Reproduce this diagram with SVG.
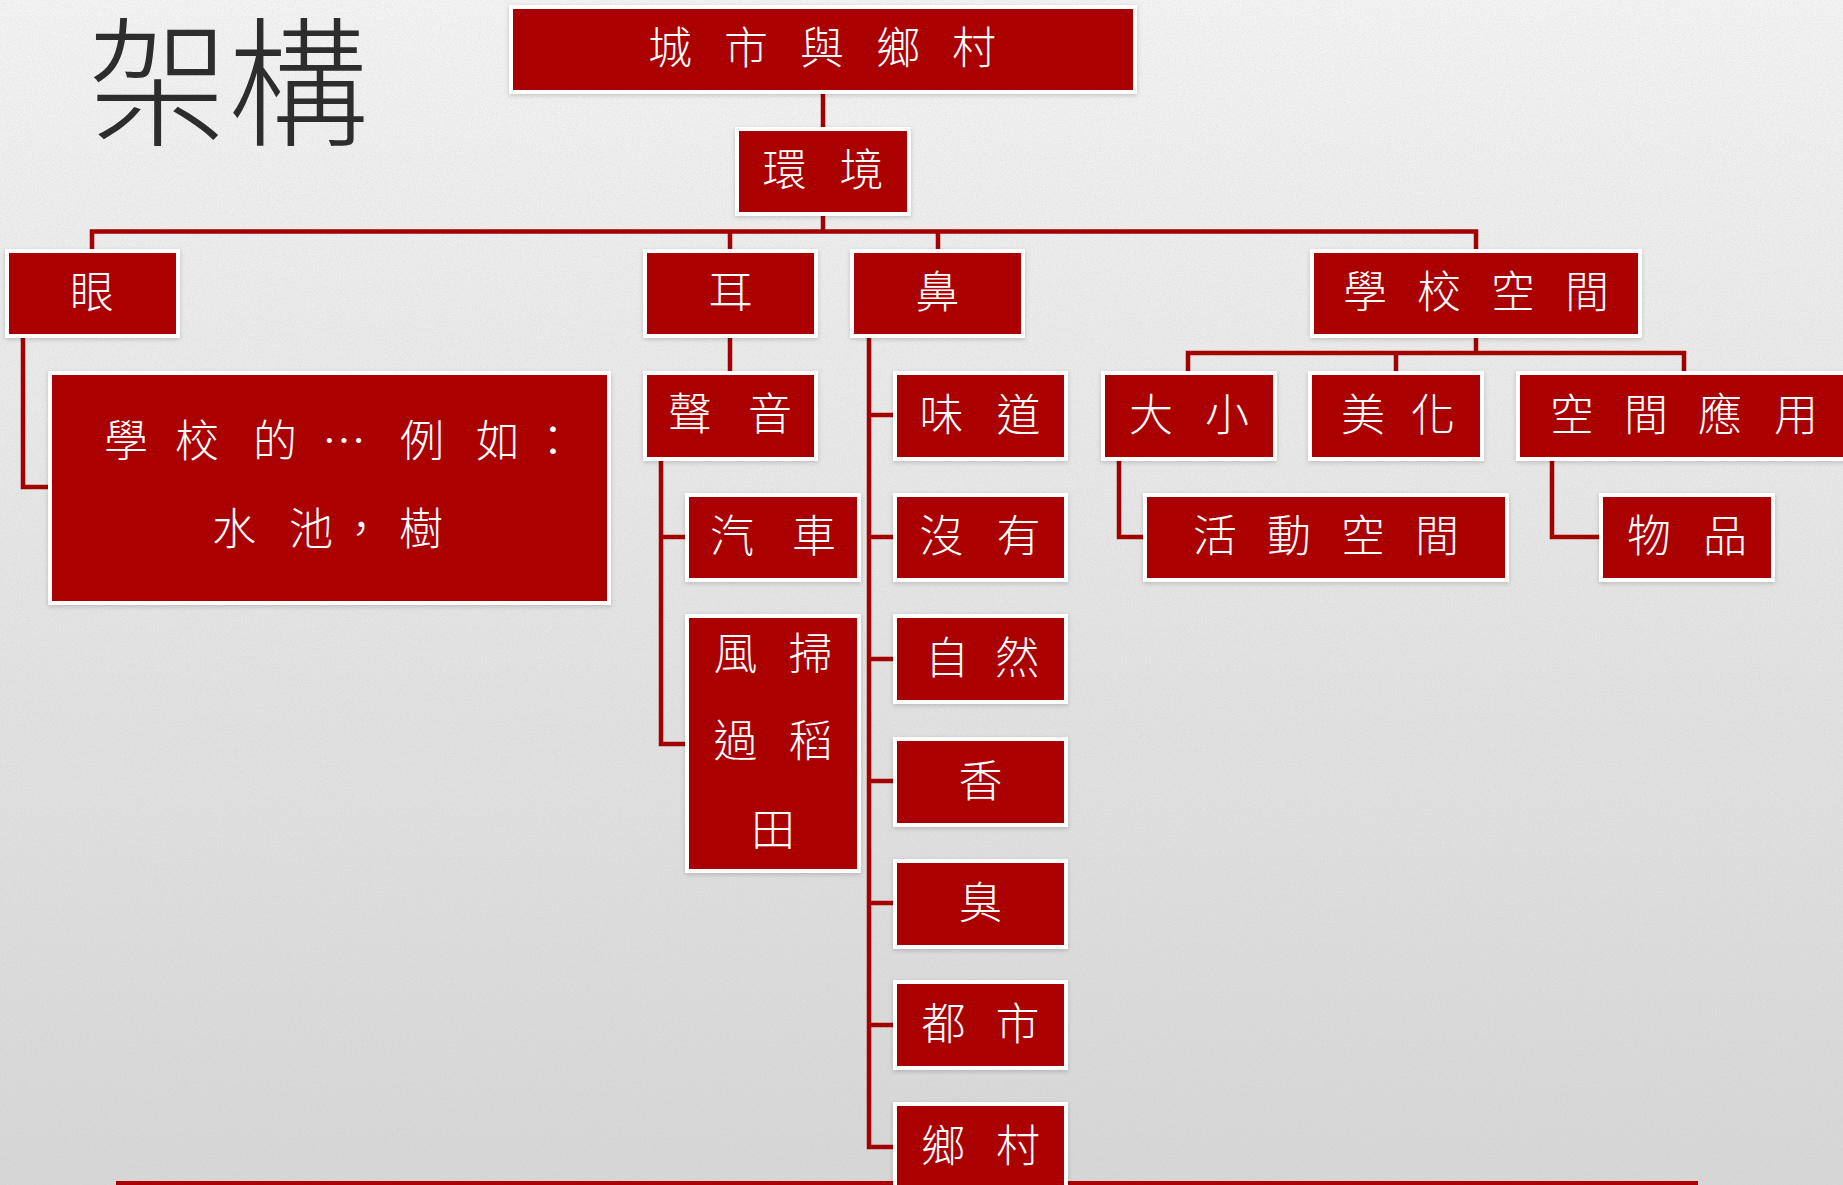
<svg xmlns="http://www.w3.org/2000/svg" width="1843" height="1185" viewBox="0 0 1843 1185">
<defs>
<linearGradient id="bg" x1="0" y1="0" x2="0" y2="1">
<stop offset="0" stop-color="#f5f5f5"/>
<stop offset="0.5" stop-color="#e6e6e6"/>
<stop offset="1" stop-color="#d8d8d8"/>
</linearGradient>
<filter id="noise" x="0" y="0" width="100%" height="100%">
<feTurbulence type="fractalNoise" baseFrequency="0.8" numOctaves="2" stitchTiles="stitch"/>
<feColorMatrix type="matrix" values="0 0 0 0 0.5  0 0 0 0 0.5  0 0 0 0 0.5  0 0 0 1.2 -0.35"/>
</filter>
<filter id="sh" x="-10%" y="-10%" width="120%" height="130%">
<feDropShadow dx="0" dy="1.5" stdDeviation="2" flood-color="#000" flood-opacity="0.18"/>
</filter>
<style>
.box{fill:#ab0000;stroke:#ffffff;stroke-width:4;filter:url(#sh)}
.lbl{fill:#ffffff;font-family:"Noto Sans CJK TC","Noto Sans CJK SC",sans-serif;font-size:44px;font-weight:300;text-anchor:middle;dominant-baseline:central}
.con{fill:none;stroke:#a30000;stroke-width:4.5;stroke-linejoin:miter}
.title{fill:#2d2d2d;font-family:"Liberation Sans","Noto Sans CJK TC",sans-serif;font-size:140px;font-weight:300}
</style>
</defs>
<rect x="0" y="0" width="1843" height="1185" fill="url(#bg)"/>
<rect x="0" y="0" width="1843" height="1185" filter="url(#noise)" opacity="0.35"/>
<rect x="116" y="1181" width="1582" height="6" fill="#ab0000"/>
<text class="title" x="88" y="86" dominant-baseline="central">架構</text>

<g id="connectors">
<path class="con" d="M823,90 V131"/>
<path class="con" d="M823,212 V231.5 M92,253 V231.5 H1476 V253 M730,231.5 V253 M938,231.5 V253"/>
<path class="con" d="M23,334 V487 H52"/>
<path class="con" d="M730,334 V375"/>
<path class="con" d="M661,457 V744 H689 M661,537 H689"/>
<path class="con" d="M869,334 V1147 H897 M869,415 H897 M869,537 H897 M869,659 H897 M869,781 H897 M869,903 H897 M869,1025 H897"/>
<path class="con" d="M1476,334 V353 M1188,375 V353 H1684 V375 M1396,353 V375"/>
<path class="con" d="M1119,457 V537 H1147"/>
<path class="con" d="M1552,457 V537 H1603"/>
</g>

<g id="n-top"><rect class="box" x="511" y="7" width="624" height="85"/><text class="lbl" x="838" y="45" letter-spacing="32">城市與鄉村</text></g>
<g id="n-env"><rect class="box" x="737" y="129" width="172" height="85"/><text class="lbl" x="839.5" y="167" letter-spacing="33">環境</text></g>
<g id="n-eye"><rect class="box" x="7" y="251" width="171" height="85"/><text class="lbl" x="92" y="289">眼</text></g>
<g id="n-ear"><rect class="box" x="645" y="251" width="171" height="85"/><text class="lbl" x="730.5" y="289">耳</text></g>
<g id="n-nose"><rect class="box" x="852" y="251" width="171" height="85"/><text class="lbl" x="937.5" y="289">鼻</text></g>
<g id="n-school"><rect class="box" x="1312" y="251" width="328" height="85"/><text class="lbl" x="1491" y="289" letter-spacing="30">學校空間</text></g>

<g id="n-eye-detail"><rect class="box" x="50" y="373" width="559" height="230"/>
<text class="lbl" y="438" style="text-anchor:start"><tspan x="104">學</tspan><tspan x="175">校</tspan><tspan x="253">的</tspan><tspan x="322">…</tspan><tspan x="400">例</tspan><tspan x="476">如</tspan><tspan x="531">：</tspan></text>
<text class="lbl" y="526" style="text-anchor:start"><tspan x="212">水</tspan><tspan x="289">池</tspan><tspan x="339">，</tspan><tspan x="399">樹</tspan></text>
</g>
<g id="n-sound"><rect class="box" x="645" y="373" width="171" height="86"/><text class="lbl" x="748" y="411" letter-spacing="36">聲音</text></g>
<g id="n-car"><rect class="box" x="687" y="495" width="172" height="85"/><text class="lbl" x="792" y="533" letter-spacing="38">汽車</text></g>
<g id="n-wind"><rect class="box" x="687" y="616" width="172" height="255"/>
<text class="lbl" x="788.5" y="651" letter-spacing="31">風掃</text>
<text class="lbl" x="788.5" y="738" letter-spacing="31">過稻</text>
<text class="lbl" x="773" y="827" font-size="30">田</text>
</g>
<g id="n-smell"><rect class="box" x="895" y="373" width="171" height="86"/><text class="lbl" x="996.5" y="412" letter-spacing="33">味道</text></g>
<g id="n-none"><rect class="box" x="895" y="495" width="171" height="85"/><text class="lbl" x="996.5" y="533" letter-spacing="33">沒有</text></g>
<g id="n-nature"><rect class="box" x="895" y="616" width="171" height="86"/><text class="lbl" x="995" y="655" letter-spacing="26">自然</text></g>
<g id="n-fragrant"><rect class="box" x="895" y="739" width="171" height="86"/><text class="lbl" x="980.5" y="778">香</text></g>
<g id="n-stink"><rect class="box" x="895" y="861" width="171" height="86"/><text class="lbl" x="980.5" y="900">臭</text></g>
<g id="n-city"><rect class="box" x="895" y="982" width="171" height="86"/><text class="lbl" x="995.5" y="1021" letter-spacing="30">都市</text></g>
<g id="n-village"><rect class="box" x="895" y="1104" width="171" height="100"/><text class="lbl" x="996" y="1143" letter-spacing="31">鄉村</text></g>

<g id="n-size"><rect class="box" x="1103" y="373" width="172" height="86"/><text class="lbl" x="1205" y="412" letter-spacing="32">大小</text></g>
<g id="n-beauty"><rect class="box" x="1310" y="373" width="172" height="86"/><text class="lbl" x="1411" y="412" letter-spacing="26">美化</text></g>
<g id="n-usage"><rect class="box" x="1518" y="373" width="340" height="86"/><text class="lbl" y="412"><tspan x="1572">空</tspan><tspan x="1646">間</tspan><tspan x="1720">應</tspan><tspan x="1796">用</tspan></text></g>
<g id="n-activity"><rect class="box" x="1145" y="495" width="362" height="85"/><text class="lbl" x="1341" y="533" letter-spacing="30">活動空間</text></g>
<g id="n-items"><rect class="box" x="1601" y="495" width="172" height="85"/><text class="lbl" x="1703" y="533" letter-spacing="32">物品</text></g>
</svg>
